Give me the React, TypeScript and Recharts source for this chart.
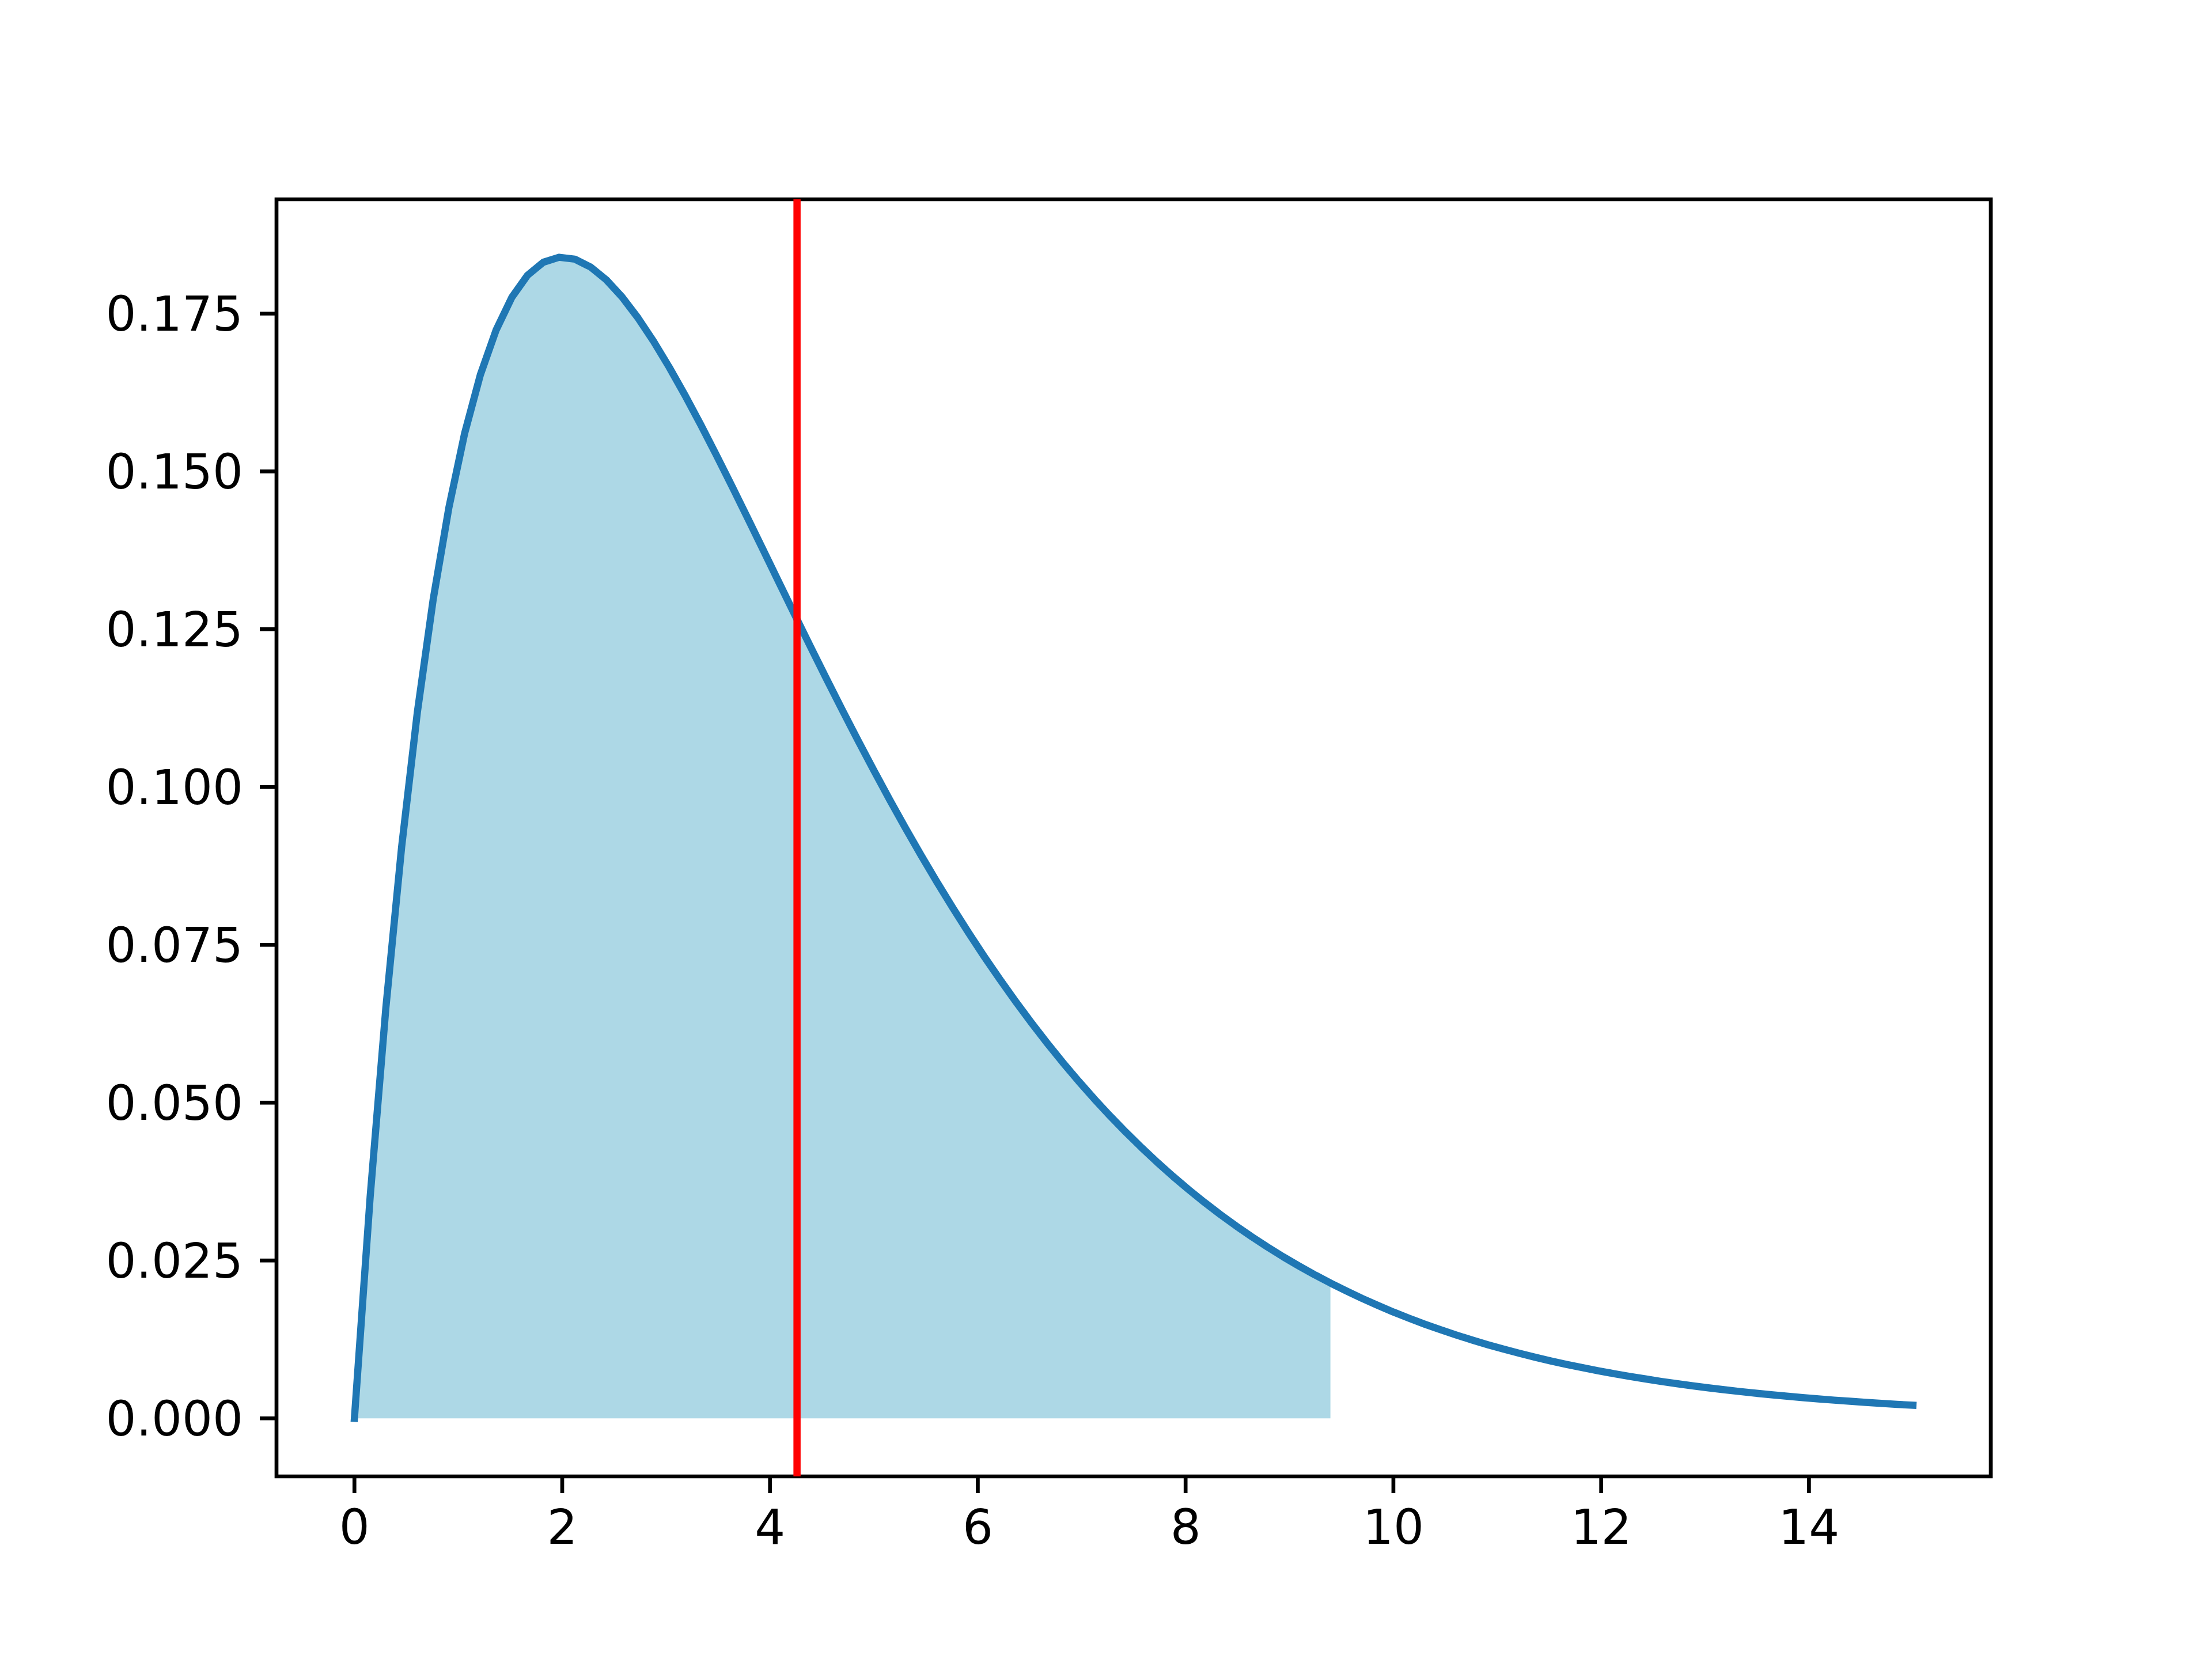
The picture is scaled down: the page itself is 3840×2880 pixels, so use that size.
import { ComposedChart, Area, Line, XAxis, YAxis, ReferenceLine, ReferenceArea } from "recharts";

// x positions of the sampled curve (0..15, 100 points)
const xs = [
  0, 0.1515, 0.303, 0.4545, 0.6061, 0.7576, 0.9091, 1.0606, 1.2121, 1.3636,
  1.5152, 1.6667, 1.8182, 1.9697, 2.1212, 2.2727, 2.4242, 2.5758, 2.7273, 2.8788,
  3.0303, 3.1818, 3.3333, 3.4848, 3.6364, 3.7879, 3.9394, 4.0909, 4.2424, 4.3939,
  4.5455, 4.697, 4.8485, 5.0, 5.1515, 5.303, 5.4545, 5.6061, 5.7576, 5.9091,
  6.0606, 6.2121, 6.3636, 6.5152, 6.6667, 6.8182, 6.9697, 7.1212, 7.2727, 7.4242,
  7.5758, 7.7273, 7.8788, 8.0303, 8.1818, 8.3333, 8.4848, 8.6364, 8.7879, 8.9394,
  9.0909, 9.2424, 9.3939, 9.5455, 9.697, 9.8485, 10.0, 10.1515, 10.303, 10.4545,
  10.6061, 10.7576, 10.9091, 11.0606, 11.2121, 11.3636, 11.5152, 11.6667, 11.8182, 11.9697,
  12.1212, 12.2727, 12.4242, 12.5758, 12.7273, 12.8788, 13.0303, 13.1818, 13.3333, 13.4848,
  13.6364, 13.7879, 13.9394, 14.0909, 14.2424, 14.3939, 14.5455, 14.697, 14.8485, 15.0,
];

// density values
const density = [
  0, 0.03511, 0.0651, 0.09053, 0.11191, 0.12968, 0.14426, 0.15602, 0.1653, 0.17239,
  0.17758, 0.18108, 0.18313, 0.18392, 0.18362, 0.18238, 0.18035, 0.17763, 0.17436, 0.17062,
  0.16649, 0.16206, 0.1574, 0.15254, 0.14757, 0.1425, 0.13739, 0.13226, 0.12715, 0.12209,
  0.11708, 0.11216, 0.10733, 0.10261, 0.098, 0.09352, 0.08918, 0.08497, 0.0809, 0.07697,
  0.07318, 0.06954, 0.06604, 0.06268, 0.05946, 0.05637, 0.05342, 0.0506, 0.04791, 0.04534,
  0.04289, 0.04055, 0.03833, 0.03622, 0.03421, 0.0323, 0.03049, 0.02877, 0.02714, 0.02559,
  0.02413, 0.02274, 0.02143, 0.02019, 0.01901, 0.0179, 0.01684, 0.01585, 0.01491, 0.01403,
  0.01319, 0.01241, 0.01166, 0.01096, 0.0103, 0.00968, 0.00909, 0.00854, 0.00803, 0.00754,
  0.00708, 0.00664, 0.00624, 0.00585, 0.00549, 0.00515, 0.00483, 0.00453, 0.00425, 0.00398,
  0.00373, 0.0035, 0.00328, 0.00307, 0.00288, 0.0027, 0.00252, 0.00236, 0.00221, 0.00207,
];

const fillEnd = 9.4; // shaded region stops here
const criticalX = 4.26; // red vertical marker

const xTicks = [0, 2, 4, 6, 8, 10, 12, 14];
const yTicks = [0, 0.025, 0.05, 0.075, 0.1, 0.125, 0.15, 0.175];

const xDomain = [-0.75, 15.75];
const yDomain = [-0.0092, 0.1931];

const data = xs.map((x, i) => ({
  x,
  y: density[i],
  shade: x <= fillEnd ? density[i] : null,
}));

const tickStyle = { fontFamily: "DejaVu Sans", fontSize: 83.3, fill: "#000" };

const App = () => {
  return (
    <div style={{ position: "absolute", left: 0, top: 0, background: "#fff" }}>
      <ComposedChart
        width={3840}
        height={2880}
        data={data}
        margin={{ top: 346, right: 384, bottom: 0, left: 0 }}
      >
        <XAxis
          type="number"
          dataKey="x"
          domain={xDomain}
          ticks={xTicks}
          allowDataOverflow
          axisLine={false}
          tickLine={{ stroke: "#000", strokeWidth: 6.67 }}
          tickSize={29}
          tickMargin={29}
          height={317}
          tick={tickStyle}
        />
        <YAxis
          type="number"
          domain={yDomain}
          ticks={yTicks}
          allowDataOverflow
          axisLine={false}
          tickLine={{ stroke: "#000", strokeWidth: 6.67 }}
          tickSize={29}
          tickMargin={29}
          width={480}
          tick={tickStyle}
          tickFormatter={(v: number) => v.toFixed(3)}
        />

        <Area
          type="linear"
          dataKey="shade"
          baseValue={0}
          stroke="none"
          fill="#add8e6"
          fillOpacity={1}
          isAnimationActive={false}
        />
        <Line
          type="linear"
          dataKey="y"
          stroke="#1f77b4"
          strokeWidth={12.5}
          strokeLinejoin="round"
          strokeLinecap="square"
          dot={false}
          isAnimationActive={false}
        />
        <ReferenceLine x={criticalX} stroke="#ff0000" strokeWidth={12.5} />
        <ReferenceArea
          x1={xDomain[0]}
          x2={xDomain[1]}
          y1={yDomain[0]}
          y2={yDomain[1]}
          fill="none"
          stroke="#000"
          strokeWidth={6.67}
        />
      </ComposedChart>
    </div>
  );
};

export default App;
